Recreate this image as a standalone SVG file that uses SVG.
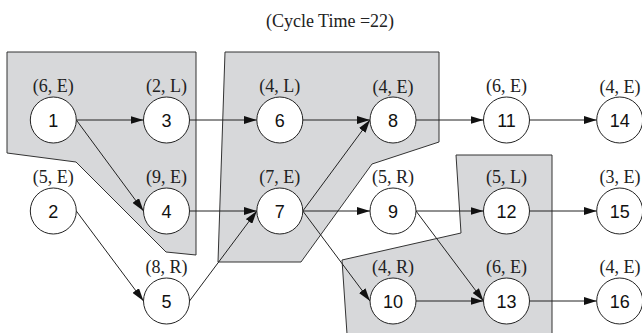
<svg xmlns="http://www.w3.org/2000/svg" width="642" height="333" viewBox="0 0 642 333">
<style>
.zone{fill:#d7d8da;stroke:#333;stroke-width:1}
.n circle{fill:#fff;stroke:#222;stroke-width:1}
.num{font-family:"Liberation Sans",Arial,sans-serif;font-size:18px;fill:#111;text-anchor:middle}
.lab{font-family:"Liberation Serif","Times New Roman",serif;font-size:18px;fill:#222;text-anchor:middle}
.e line{stroke:#222;stroke-width:1;marker-end:url(#ah)}
</style>
<defs>
<marker id="ah" markerUnits="userSpaceOnUse" markerWidth="13" markerHeight="8" refX="13" refY="4" orient="auto">
<path d="M0,0 L13,4 L0,8 z" fill="#111"/>
</marker>
</defs>
<rect width="642" height="333" fill="#fff"/>
<text class="lab" x="330" y="27">(Cycle Time =22)</text>
<g id="zones">
<polygon class="zone" points="7,52 196,52 196,255 166,252 76,162 7,153"/>
<polygon class="zone" points="225,52 439,52 439,142 372,164 301,262 218,262"/>
<polygon class="zone" points="456,155 552,155 552,334 347,334 342,260 461,233"/>
</g>
<g id="edges" class="e">
<line x1="76.3" y1="120" x2="143.5" y2="120"/>
<line x1="76.3" y1="120" x2="143.5" y2="211"/>
<line x1="189.5" y1="120" x2="256.8" y2="120"/>
<line x1="302.8" y1="120" x2="370" y2="120"/>
<line x1="416" y1="120" x2="483.5" y2="120"/>
<line x1="529.5" y1="120" x2="596.7" y2="120"/>
<line x1="76.3" y1="211" x2="143.5" y2="301"/>
<line x1="189.5" y1="211" x2="256.8" y2="211"/>
<line x1="189.5" y1="301" x2="256.8" y2="211"/>
<line x1="302.8" y1="211" x2="370" y2="120"/>
<line x1="302.8" y1="211" x2="370" y2="211"/>
<line x1="302.8" y1="211" x2="370" y2="301"/>
<line x1="416" y1="211" x2="483.5" y2="211"/>
<line x1="416" y1="211" x2="483.5" y2="301"/>
<line x1="416" y1="301" x2="483.5" y2="301"/>
<line x1="529.5" y1="211" x2="596.7" y2="211"/>
<line x1="529.5" y1="301" x2="596.7" y2="301"/>
</g>
<g id="n1" class="n"><circle cx="53.3" cy="120" r="23"/><text class="num" x="53.3" y="126.5">1</text><text class="lab" x="53.3" y="91.5">(6, E)</text></g>
<g id="n3" class="n"><circle cx="166.5" cy="120" r="23"/><text class="num" x="166.5" y="126.5">3</text><text class="lab" x="166.5" y="91.5">(2, L)</text></g>
<g id="n6" class="n"><circle cx="279.8" cy="120" r="23"/><text class="num" x="279.8" y="126.5">6</text><text class="lab" x="279.8" y="91.5">(4, L)</text></g>
<g id="n8" class="n"><circle cx="393" cy="120" r="23"/><text class="num" x="393" y="126.5">8</text><text class="lab" x="393" y="92.5">(4, E)</text></g>
<g id="n11" class="n"><circle cx="506.5" cy="120" r="23"/><text class="num" x="506.5" y="126.5">11</text><text class="lab" x="506.5" y="91.5">(6, E)</text></g>
<g id="n14" class="n"><circle cx="619.7" cy="120" r="23"/><text class="num" x="619.7" y="126.5">14</text><text class="lab" x="620" y="93">(4, E)</text></g>
<g id="n2" class="n"><circle cx="53.3" cy="211" r="23"/><text class="num" x="53.3" y="217.5">2</text><text class="lab" x="53.3" y="182.5">(5, E)</text></g>
<g id="n4" class="n"><circle cx="166.5" cy="211" r="23"/><text class="num" x="166.5" y="217.5">4</text><text class="lab" x="166.5" y="182.5">(9, E)</text></g>
<g id="n7" class="n"><circle cx="279.8" cy="211" r="23"/><text class="num" x="279.8" y="217.5">7</text><text class="lab" x="279.8" y="182.5">(7, E)</text></g>
<g id="n9" class="n"><circle cx="393" cy="211" r="23"/><text class="num" x="393" y="217.5">9</text><text class="lab" x="393" y="182.5">(5, R)</text></g>
<g id="n12" class="n"><circle cx="506.5" cy="211" r="23"/><text class="num" x="506.5" y="217.5">12</text><text class="lab" x="506.5" y="182.5">(5, L)</text></g>
<g id="n15" class="n"><circle cx="619.7" cy="211" r="23"/><text class="num" x="619.7" y="217.5">15</text><text class="lab" x="620" y="182.5">(3, E)</text></g>
<g id="n5" class="n"><circle cx="166.5" cy="301" r="23"/><text class="num" x="166.5" y="307.5">5</text><text class="lab" x="166.5" y="272.5">(8, R)</text></g>
<g id="n10" class="n"><circle cx="393" cy="301" r="23"/><text class="num" x="393" y="307.5">10</text><text class="lab" x="393" y="272.5">(4, R)</text></g>
<g id="n13" class="n"><circle cx="506.5" cy="301" r="23"/><text class="num" x="506.5" y="307.5">13</text><text class="lab" x="506.5" y="272.5">(6, E)</text></g>
<g id="n16" class="n"><circle cx="619.7" cy="301" r="23"/><text class="num" x="619.7" y="307.5">16</text><text class="lab" x="620" y="272.5">(4, E)</text></g>
</svg>
